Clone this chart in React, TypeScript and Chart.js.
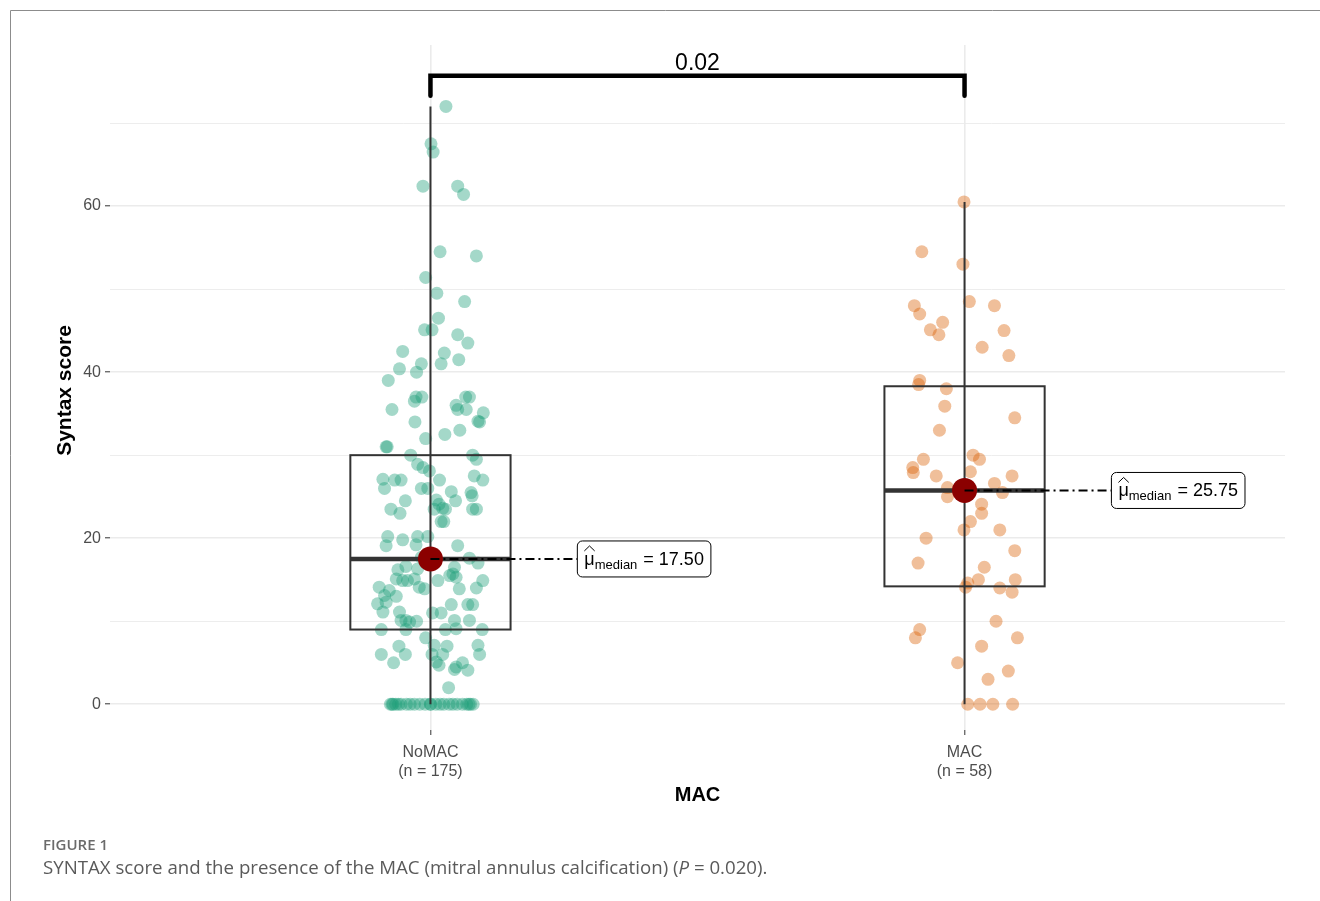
import React, { useEffect, useRef } from 'react';
import { Chart, registerables } from 'chart.js';
Chart.register(...registerables);

// ---------- data ----------
const categories = ['NoMAC', 'MAC'];
const groupCounts = [175, 58];
const yTickValues = [0, 10, 20, 30, 40, 50, 60, 70];
const yLabelledTicks = [0, 20, 40, 60];
const boxQ1 = [9, 14.2];
const boxMedian = [17.5, 25.75];
const boxQ3 = [30, 38.3];
const whiskerLow = [0, 0];
const whiskerHigh = [72, 60.5];
const pValueText = '0.02';
const bracketLevel = 75.7;
const bracketLegEnd = 73.3;

// jittered observations: x offset from the category centre (axis units) and value
const noMacJitter = [
  0.029, 0.001, 0.005, -0.014, 0.051, 0.062, 0.018, 0.086, -0.009, 0.012,
  0.064, 0.015, -0.011, 0.003, 0.051, 0.070, -0.052, 0.026, -0.017, 0.020,
  0.053, -0.058, -0.026, -0.079, -0.027, -0.016, -0.030, 0.066, 0.073, 0.048,
  0.051, 0.067, 0.099, 0.089, 0.092, -0.072, -0.029, 0.055, 0.027, -0.009,
  -0.083, -0.081, -0.037, 0.079, 0.086, -0.024, -0.014, -0.002, 0.017, 0.082,
  0.098, -0.089, -0.086, -0.067, -0.055, -0.017, -0.005, 0.039, 0.047, 0.076,
  0.078, 0.011, 0.016, 0.007, 0.023, 0.028, -0.047, -0.074, -0.057, 0.079,
  0.086, 0.020, 0.025, -0.080, -0.052, -0.024, -0.005, -0.083, -0.027, 0.051,
  0.073, -0.017, 0.089, -0.061, -0.046, -0.024, -0.064, 0.045, 0.042, 0.048,
  0.036, 0.014, 0.098, -0.052, -0.043, -0.030, -0.021, -0.011, -0.096, -0.077,
  0.086, 0.054, -0.086, -0.064, -0.099, -0.083, -0.089, 0.039, 0.070, 0.079,
  0.004, 0.020, -0.058, -0.055, -0.046, -0.026, -0.039, 0.045, 0.048, 0.073,
  -0.092, -0.046, 0.028, 0.097, -0.009, -0.059, 0.007, 0.031, 0.089, -0.092,
  -0.047, 0.003, 0.023, 0.092, -0.069, 0.011, 0.016, 0.045, 0.048, 0.070,
  0.060, 0.034,
  -0.075, -0.070, -0.065, -0.060, -0.055, -0.045, -0.038, -0.030, -0.020, -0.010,
  0.000, 0.010, 0.018, 0.025, 0.035, 0.042, 0.050, 0.060, 0.068, 0.075,
  0.080, 0.072, -0.072, 0.000,
];
const noMacValues = [
  72.0, 67.5, 66.5, 62.4, 62.4, 61.4, 54.5, 54.0, 51.4, 49.5,
  48.5, 46.5, 45.1, 45.1, 44.5, 43.5, 42.5, 42.3, 41.0, 41.0,
  41.5, 40.4, 40.0, 39.0, 37.0, 37.0, 36.5, 37.0, 37.0, 36.0,
  35.5, 35.5, 35.1, 34.1, 34.0, 35.5, 34.0, 33.0, 32.5, 32.0,
  31.0, 31.0, 30.0, 30.0, 29.5, 28.9, 28.5, 28.1, 27.0, 27.5,
  27.0, 27.1, 26.0, 27.0, 27.0, 26.0, 26.0, 25.6, 24.5, 25.5,
  25.1, 24.6, 24.1, 23.5, 23.6, 23.5, 24.5, 23.5, 23.0, 23.5,
  23.5, 22.0, 22.0, 20.2, 19.8, 20.2, 20.2, 19.1, 19.2, 19.1,
  17.6, 17.7, 17.0, 16.2, 16.6, 16.3, 15.1, 16.5, 15.7, 15.3,
  15.5, 14.9, 14.9, 14.9, 14.9, 15.1, 14.1, 13.9, 14.1, 13.7,
  14.0, 13.9, 13.1, 13.0, 12.1, 12.3, 11.1, 12.0, 12.0, 12.0,
  11.0, 11.0, 11.1, 10.1, 10.1, 10.0, 9.9, 10.1, 9.1, 10.1,
  9.0, 9.0, 9.0, 9.0, 8.0, 7.0, 7.1, 7.0, 7.1, 6.0,
  6.0, 6.0, 6.0, 6.0, 5.0, 5.1, 4.7, 4.2, 4.5, 4.1,
  5.0, 2.0,
  0, 0, 0, 0, 0, 0, 0, 0, 0, 0,
  0, 0, 0, 0, 0, 0, 0, 0, 0, 0,
  0, 0, 0, 0,
];
const macJitter = [
  -0.001, -0.080, -0.003, 0.009, -0.094, -0.084, 0.056, -0.041, -0.064, -0.048,
  0.074, 0.033, 0.083, -0.084, -0.086, -0.034, -0.037, 0.094, -0.047, 0.016,
  0.028, -0.077, -0.097, -0.096, 0.011, -0.053, 0.089, -0.032, -0.032, 0.056,
  0.071, 0.032, 0.032, 0.011, -0.001, 0.066, -0.072, 0.094, -0.087, 0.037,
  0.026, 0.095, 0.006, 0.002, 0.066, 0.089, 0.059, -0.084, -0.092, 0.099,
  0.032, -0.013, 0.082, 0.044, 0.006, 0.029, 0.053, 0.090,
];
const macValues = [
  60.5, 54.5, 53.0, 48.5, 48.0, 47.0, 48.0, 46.0, 45.1, 44.5,
  45.0, 43.0, 42.0, 39.0, 38.5, 38.0, 35.9, 34.5, 33.0, 30.0,
  29.5, 29.5, 28.5, 27.9, 28.0, 27.5, 27.5, 26.1, 25.0, 26.6,
  25.5, 24.1, 23.0, 22.0, 21.0, 21.0, 20.0, 18.5, 17.0, 16.5,
  15.0, 15.0, 14.6, 14.1, 14.0, 13.5, 10.0, 9.0, 8.0, 8.0,
  7.0, 5.0, 4.0, 3.0, 0, 0, 0, 0,
];

// ---------- styling ----------
const SANS = '"Liberation Sans", Arial, sans-serif';
const GREEN = 'rgba(27,158,119,0.4)';
const ORANGE = 'rgba(217,95,2,0.4)';
const BOX_HALF = 0.15;
const LABEL_OFFSET = 0.275;

const boxPlugin = {
  id: 'boxes',
  afterDatasetDraw(chart: any, args: any) {
    if (args.index !== 1) return;
    const { ctx, scales } = chart;
    const x = scales.x, y = scales.y;
    ctx.save();
    ctx.strokeStyle = '#333333';
    categories.forEach((_, i) => {
      const cx = x.getPixelForValue(i + 1);
      const l = x.getPixelForValue(i + 1 - BOX_HALF);
      const r = x.getPixelForValue(i + 1 + BOX_HALF);
      ctx.lineWidth = 2;
      ctx.beginPath();
      ctx.moveTo(cx, y.getPixelForValue(whiskerLow[i]));
      ctx.lineTo(cx, y.getPixelForValue(whiskerHigh[i]));
      ctx.stroke();
      const t = y.getPixelForValue(boxQ3[i]);
      const b = y.getPixelForValue(boxQ1[i]);
      ctx.strokeRect(l, t, r - l, b - t);
      ctx.lineWidth = 4.5;
      ctx.beginPath();
      const m = y.getPixelForValue(boxMedian[i]);
      ctx.moveTo(l, m);
      ctx.lineTo(r, m);
      ctx.stroke();
    });
    ctx.restore();
  },
};

const annotationPlugin = {
  id: 'annot',
  afterDatasetsDraw(chart: any) {
    const { ctx, scales } = chart;
    const x = scales.x, y = scales.y;
    ctx.save();
    categories.forEach((_, i) => {
      const cx = x.getPixelForValue(i + 1);
      const my = y.getPixelForValue(boxMedian[i]);
      const lx = x.getPixelForValue(i + 1 + LABEL_OFFSET);
      ctx.strokeStyle = '#000';
      ctx.lineWidth = 2;
      ctx.setLineDash([9, 4, 2, 4]);
      ctx.beginPath();
      ctx.moveTo(cx, my);
      ctx.lineTo(lx, my);
      ctx.stroke();
      ctx.setLineDash([]);
      const mainFont = `18px ${SANS}`;
      const subFont = `13px ${SANS}`;
      ctx.font = mainFont;
      const wMu = ctx.measureText('μ').width;
      const rest = ' = ' + boxMedian[i].toFixed(2);
      const wRest = ctx.measureText(rest).width;
      ctx.font = subFont;
      const wSub = ctx.measureText('median').width;
      const pad = 7;
      const w = pad * 2 + 1 + wMu + wSub + wRest;
      const h = 36;
      const top = my - h / 2;
      ctx.beginPath();
      (ctx as any).roundRect(lx, top, w, h, 5);
      ctx.fillStyle = '#fff';
      ctx.fill();
      ctx.lineWidth = 1;
      ctx.strokeStyle = '#000';
      ctx.stroke();
      ctx.fillStyle = '#000';
      ctx.textBaseline = 'alphabetic';
      ctx.textAlign = 'left';
      const base = my + 6;
      let tx = lx + pad;
      ctx.font = mainFont;
      ctx.fillText('μ', tx, base);
      ctx.lineWidth = 1;
      ctx.beginPath();
      ctx.moveTo(tx, base - 14);
      ctx.lineTo(tx + wMu / 2, base - 19);
      ctx.lineTo(tx + wMu, base - 14);
      ctx.stroke();
      tx += wMu;
      ctx.font = subFont;
      ctx.fillText('median', tx, base + 4);
      tx += wSub + 1;
      ctx.font = mainFont;
      ctx.fillText(rest, tx, base);
    });
    ctx.restore();
  },
  afterDraw(chart: any) {
    const { ctx, scales, chartArea } = chart;
    const x = scales.x, y = scales.y;
    ctx.save();
    // page frame
    ctx.strokeStyle = '#8c8c8c';
    ctx.lineWidth = 1;
    ctx.beginPath();
    ctx.moveTo(10.5, 901);
    ctx.lineTo(10.5, 10.5);
    ctx.lineTo(1320, 10.5);
    ctx.stroke();
    // significance bracket
    const x1 = x.getPixelForValue(1), x2 = x.getPixelForValue(2);
    const by = y.getPixelForValue(bracketLevel);
    const ly = y.getPixelForValue(bracketLegEnd);
    ctx.strokeStyle = '#000';
    ctx.lineWidth = 4.5;
    ctx.lineJoin = 'miter';
    ctx.lineCap = 'round';
    ctx.beginPath();
    ctx.moveTo(x1, ly);
    ctx.lineTo(x1, by);
    ctx.lineTo(x2, by);
    ctx.lineTo(x2, ly);
    ctx.stroke();
    ctx.fillStyle = '#000';
    ctx.font = `23px ${SANS}`;
    ctx.textAlign = 'center';
    ctx.textBaseline = 'alphabetic';
    ctx.fillText(pValueText, (x1 + x2) / 2, by - 6);
    // axis titles
    ctx.font = `bold 20px ${SANS}`;
    ctx.fillStyle = '#000';
    ctx.textBaseline = 'middle';
    ctx.fillText('MAC', (chartArea.left + chartArea.right) / 2, 795);
    ctx.save();
    ctx.translate(65, (chartArea.top + chartArea.bottom) / 2 + 3);
    ctx.rotate(-Math.PI / 2);
    ctx.font = `bold 21px ${SANS}`;
    ctx.fillText('Syntax score', 0, 0);
    ctx.restore();
    // caption
    ctx.textAlign = 'left';
    ctx.textBaseline = 'alphabetic';
    ctx.fillStyle = '#6b6b6b';
    ctx.font = `600 15px "Open Sans", Arial, sans-serif`;
    ctx.fillText('FIGURE 1', 43, 850);
    const c1 = 'SYNTAX score and the presence of the MAC (mitral annulus calcification) (';
    const c2 = 'P';
    const c3 = ' = 0.020).';
    const fam = '"Open Sans", Arial, sans-serif';
    const ref = 17;
    ctx.font = `${ref}px ${fam}`;
    let wTot = ctx.measureText(c1 + c3).width;
    ctx.font = `italic ${ref}px ${fam}`;
    wTot += ctx.measureText(c2).width;
    const size = (ref * 725) / wTot;
    ctx.fillStyle = '#5a5a5a';
    let cx = 43;
    ctx.font = `${size}px ${fam}`;
    ctx.fillText(c1, cx, 874);
    cx += ctx.measureText(c1).width;
    ctx.font = `italic ${size}px ${fam}`;
    ctx.fillText(c2, cx, 874);
    cx += ctx.measureText(c2).width;
    ctx.font = `${size}px ${fam}`;
    ctx.fillText(c3, cx, 874);
    ctx.restore();
  },
};

export default function App() {
  const ref = useRef<HTMLCanvasElement>(null);
  useEffect(() => {
    document.body.style.margin = '0';
    const canvas = ref.current!;
    const chart = new Chart(canvas, {
      type: 'scatter',
      data: {
        datasets: [
          {
            label: 'median',
            data: boxMedian.map((m, i) => ({ x: i + 1, y: m })),
            pointRadius: 12.5,
            pointBackgroundColor: '#8B0000',
            pointBorderWidth: 0,
            clip: false,
          },
          {
            label: categories[0],
            data: noMacValues.map((v, i) => ({ x: 1 + noMacJitter[i], y: v })),
            pointRadius: 6.5,
            pointBackgroundColor: GREEN,
            pointBorderWidth: 0,
            clip: false,
          },
          {
            label: categories[1],
            data: macValues.map((v, i) => ({ x: 2 + macJitter[i], y: v })),
            pointRadius: 6.5,
            pointBackgroundColor: ORANGE,
            pointBorderWidth: 0,
            clip: false,
          },
        ],
      } as any,
      options: {
        responsive: false,
        animation: false,
        events: [],
        layout: { padding: { left: 50, right: 35, top: 45, bottom: 91 } },
        plugins: { legend: { display: false }, tooltip: { enabled: false } },
        scales: {
          x: {
            type: 'linear',
            min: 0.4,
            max: 2.6,
            afterBuildTicks: (s: any) => {
              s.ticks = categories.map((_, i) => ({ value: i + 1 }));
            },
            afterFit: (s: any) => {
              s.height = 80;
            },
            border: { display: false },
            grid: { color: '#ebebeb', lineWidth: 1.6, tickColor: '#333', tickLength: 5, tickWidth: 1 },
            ticks: {
              callback: (v: any) => {
                const i = Math.round(Number(v)) - 1;
                return [categories[i], `(n = ${groupCounts[i]})`];
              },
              color: '#4d4d4d',
              font: { family: SANS, size: 16, lineHeight: 1.19 },
              padding: 8,
              maxRotation: 0,
              minRotation: 0,
              autoSkip: false,
            },
          },
          y: {
            type: 'linear',
            min: -3.1,
            max: 79.4,
            afterBuildTicks: (s: any) => {
              s.ticks = yTickValues.map((v) => ({ value: v }));
            },
            afterFit: (s: any) => {
              s.width = 60;
            },
            border: { display: false },
            grid: {
              color: '#ebebeb',
              lineWidth: (c: any) => (yLabelledTicks.includes(c.tick?.value) ? 1.6 : 0.9),
              tickColor: (c: any) => (yLabelledTicks.includes(c.tick?.value) ? '#333' : 'rgba(0,0,0,0)'),
              tickLength: 5,
              tickWidth: 1,
            },
            ticks: {
              callback: (v: any) => (yLabelledTicks.includes(Number(v)) ? String(v) : ''),
              color: '#4d4d4d',
              font: { family: SANS, size: 16 },
              padding: 4,
              autoSkip: false,
            },
          },
        },
      } as any,
      plugins: [boxPlugin, annotationPlugin],
    });
    return () => chart.destroy();
  }, []);
  return (
    <div style={{ width: 1320, height: 901, background: '#fff' }}>
      <canvas ref={ref} width={1320} height={901} style={{ display: 'block' }} />
    </div>
  );
}
